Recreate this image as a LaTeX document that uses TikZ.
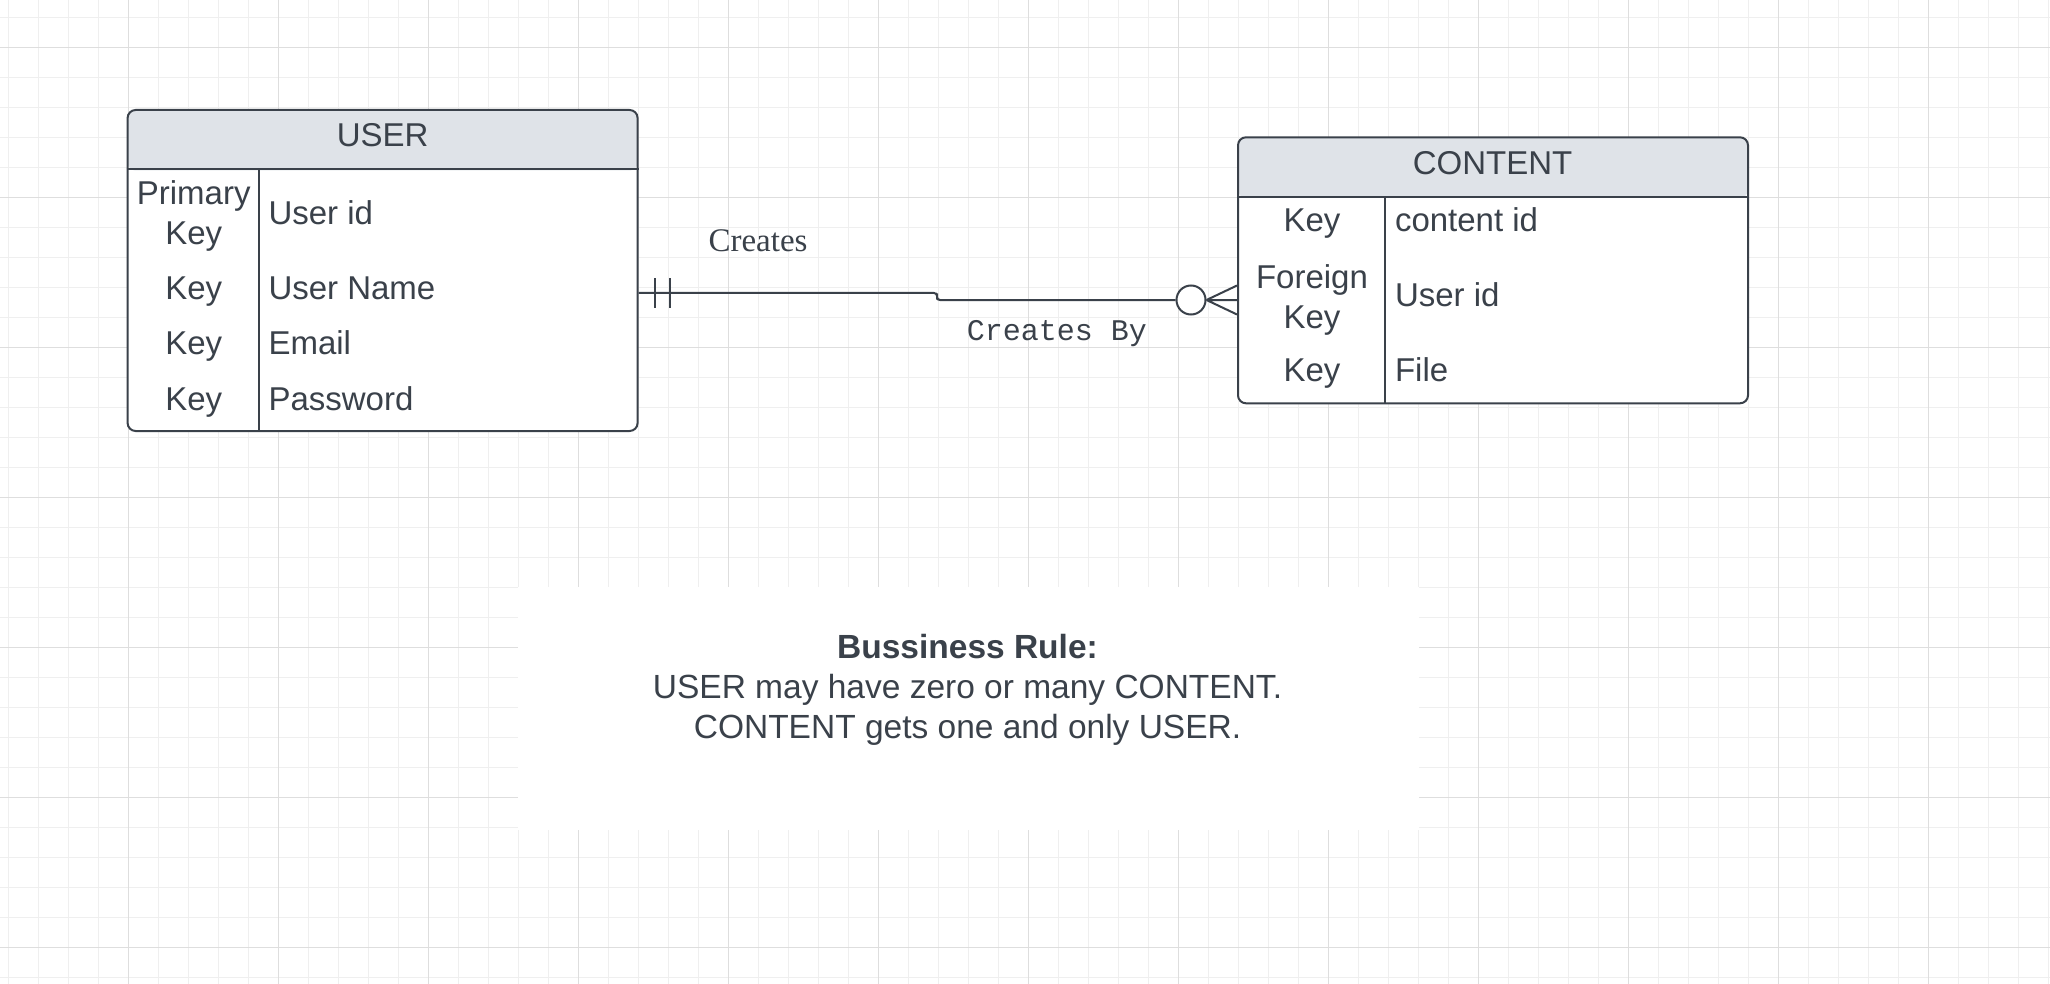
\documentclass[tikz,border=0pt]{standalone}
\usepackage{fontspec}
\setmainfont{Liberation Sans}
\newfontfamily\relserif{Liberation Serif}
\newfontfamily\relmono{Liberation Mono}
\usetikzlibrary{calc}

\definecolor{ink}{HTML}{3A414A}
\definecolor{headfill}{HTML}{DFE3E8}
\definecolor{gridminor}{HTML}{EFEFEF}
\definecolor{gridmajor}{HTML}{DEDEDE}

\begin{document}
\begin{tikzpicture}[x=1pt,y=-1pt,line width=2pt,color=ink]
    % `entity' is the outline of a table, with its grey title band.
    % `keycell' and `field' are the two columns of a table.
    % `zero' is the small circle of the crow's foot.
    \tikzstyle{entity} = [draw=ink,fill=white,rounded corners=8pt,inner sep=0pt,minimum width=510pt,
      path picture={\fill[headfill] (path picture bounding box.north west) rectangle ([yshift=-60.5pt]path picture bounding box.north east);}]
    \tikzstyle{title} = [inner sep=0pt,anchor=base,font=\fontsize{33}{40}\selectfont]
    \tikzstyle{keycell} = [inner sep=0pt,anchor=base,align=center,font=\fontsize{33}{40}\selectfont]
    \tikzstyle{field} = [inner sep=0pt,anchor=base west,font=\fontsize{33}{40}\selectfont]
    \tikzstyle{zero} = [draw=ink,fill=white,circle,inner sep=0pt,minimum size=29pt]

    \useasboundingbox (0,0) rectangle (2050,984);
    % Background grid.
    \fill[white] (0,0) rectangle (2050,984);
    \begin{scope}[line width=1.2pt]
      \foreach \gx in {8.3,38.3,...,2050} \draw[gridminor] (\gx,0) -- (\gx,984);
      \foreach \gy in {17.3,47.3,...,984} \draw[gridminor] (0,\gy) -- (2050,\gy);
      \foreach \gx in {128.3,278.3,...,2050} \draw[gridmajor] (\gx,0) -- (\gx,984);
      \foreach \gy in {47.3,197.3,...,984} \draw[gridmajor] (0,\gy) -- (2050,\gy);
    \end{scope}

    % USER table.
    \node[entity,minimum height=321pt] (user) at (382.6,270.5) {};
    \draw ([yshift=-60.5pt]user.north west) -- ([yshift=-60.5pt]user.north east);
    \draw ([shift={(132.2,60.5)}]user.north west) -- ([xshift=132.2pt]user.south west);
    \node[title] (user-t) at (382.6,146.7) {USER};
    \node[keycell] (user-k1) at (193.7,245) {Primary\\Key};
    \node[field] (user-f1) at (267.5,225) {User id};
    \foreach \fname/\yy [count=\i from 2] in {User Name/299.3,Email/354.3,Password/410}{
      \node[keycell] (user-k\i) at (193.7,\yy) {Key};
      \node[field] (user-f\i) at (267.5,\yy) {\fname};
    }

    % CONTENT table.
    \node[entity,minimum height=266pt] (content) at (1493,270.3) {};
    \draw ([yshift=-60.5pt]content.north west) -- ([yshift=-60.5pt]content.north east);
    \draw ([shift={(148,60.5)}]content.north west) -- ([xshift=148pt]content.south west);
    \node[title] (content-t) at (1492.5,174.3) {CONTENT};
    \node[keycell] (content-k1) at (1312,232) {Key};
    \node[field] (content-f1) at (1394,232) {content id};
    \node[keycell] (content-k2) at (1312,328.3) {Foreign\\Key};
    \node[field] (content-f2) at (1394,306.7) {User id};
    \node[keycell] (content-k3) at (1312,381.7) {Key};
    \node[field] (content-f3) at (1394,381.7) {File};

    % Relationship line.
    \coordinate (ustart) at ([yshift=-22.5pt]user.east);
    \coordinate (cend) at ([yshift=-29.7pt]content.west);
    \coordinate (jog) at (937,296.5);
    \node[zero] (many) at ([xshift=-46pt]cend) {};
    \draw[rounded corners=3pt] (ustart) -| (jog) |- (many.west);
    \draw ([xshift=16pt]ustart) ++(0,-14.5) -- ++(0,29)
          ([xshift=31pt]ustart) ++(0,-14.5) -- ++(0,29);
    \draw (many.east) -- (cend)
          (many.east) -- ([yshift=14.5pt]cend)
          (many.east) -- ([yshift=-14.5pt]cend);
    \node[inner sep=0pt,anchor=base,font=\relserif\fontsize{33}{40}\selectfont] (rel-top) at (758,252) {Creates};
    \node[inner sep=0pt,anchor=base,font=\relmono\fontsize{30}{36}\selectfont] (rel-bot) at (1057,340) {Creates By};

    % Business rule.
    \node[fill=white,inner sep=0pt,minimum width=901pt,minimum height=243pt] (rulebox) at (968.5,708.5) {};
    \node[inner sep=0pt,anchor=base,align=center,font=\fontsize{33.5}{40}\selectfont] (rule) at (967.5,738)
      {\textbf{Bussiness Rule:}\\USER may have zero or many CONTENT.\\CONTENT gets one and only USER.};
\end{tikzpicture}
\end{document}
